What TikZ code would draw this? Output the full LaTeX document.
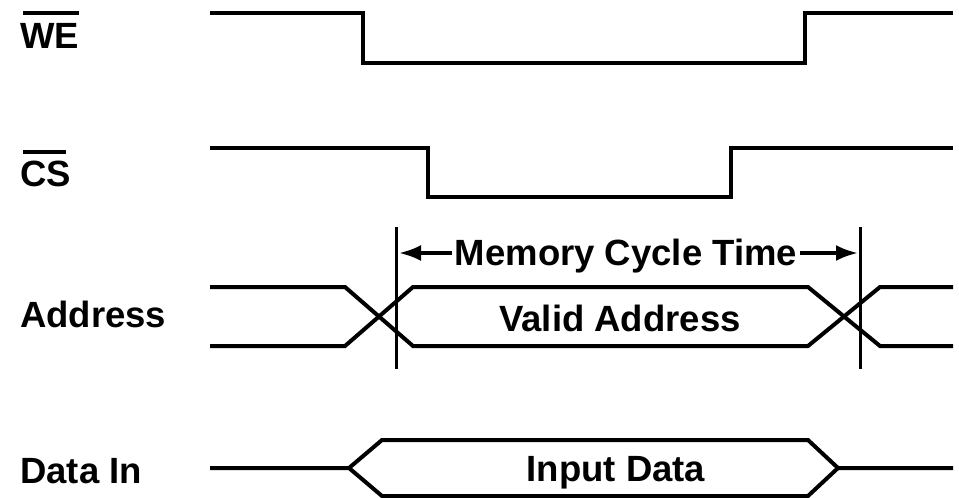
\documentclass[tikz,border=0pt]{standalone}
\usepackage{fontspec}
\setmainfont{Liberation Sans}
\usetikzlibrary{arrows.meta,calc}
\begin{document}
\begin{tikzpicture}[x=1pt,y=-1pt,
  sig/.style={line width=4pt, line join=miter},
  bar/.style={line width=4pt},
  lbl/.style={font=\fontsize{36.5}{43}\selectfont\bfseries, inner sep=0pt},
  guide/.style={line width=3pt},
  span/.style={line width=3.5pt, -{Latex[length=22pt,width=16pt]}}]
\useasboundingbox (0,0) rectangle (959,498);

% labels
\node[lbl, anchor=base west] (we) at (20,48) {WE};
\draw[bar] (23,13) -- (79,13);
\node[lbl, anchor=base west] (cs) at (20,186) {CS};
\draw[bar] (23,152) -- (66,152);
\node[lbl, anchor=base west] (addr) at (20,327) {Address};
\node[lbl, anchor=base west] (din) at (20,483) {Data In};

% WE
\draw[sig] (210,13) -- (363,13) -- (363,63) -- (805,63) -- (805,13) -- (953,13);
% CS
\draw[sig] (210,148) -- (428,148) -- (428,197) -- (731,197) -- (731,148) -- (953,148);
% Address
\draw[sig] (210,287) -- (345,287) -- (413,346) -- (808,346) -- (880,287) -- (953,287);
\draw[sig] (210,346) -- (345,346) -- (413,287) -- (808,287) -- (880,346) -- (953,346);
\node[lbl, anchor=base] (va) at (620,331) {Valid Address};
% Data In
\draw[sig] (210,468) -- (349,468) -- (382,440) -- (808,440) -- (838,468) -- (953,468);
\draw[sig] (349,468) -- (382,496) -- (808,496) -- (838,468);
\node[lbl, anchor=base] (id) at (616,481) {Input Data};

% guides
\coordinate (g1t) at (396,227);
\coordinate (g1b) at (396,369);
\coordinate (g2t) at (860,227);
\coordinate (g2b) at (860,369);
\draw[guide] (g1t) -- (g1b);
\draw[guide] (g2t) -- (g2b);

% memory cycle time
\node[lbl, anchor=base] (mct) at (626,265) {Memory Cycle Time};
\coordinate (ta) at (399,253);
\coordinate (tb) at (858,253);
\draw[span] ($(mct.base west)+(-3,-12)$) -- (ta);
\draw[span] ($(mct.base east)+(3,-12)$) -- (tb);
\end{tikzpicture}
\end{document}
